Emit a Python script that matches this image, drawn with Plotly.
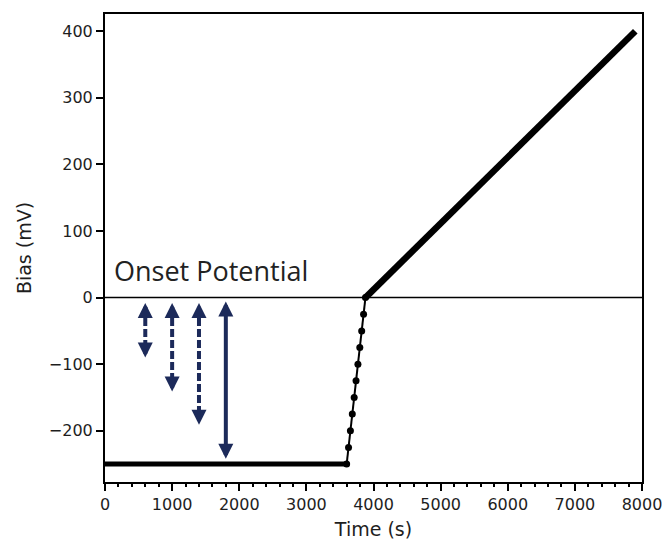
import plotly.graph_objects as go

# ---- data ----
hold_time = [0, 3600]
hold_bias = [-250, -250]

step_time = [3600, 3628, 3656, 3684, 3712, 3740, 3768, 3796, 3824, 3852, 3880]
step_bias = [-250, -225, -200, -175, -150, -125, -100, -75, -50, -25, 0]

ramp_time = [3880, 7900]
ramp_bias = [0, 400]

arrow_x = [600, 1000, 1400, 1800]
arrow_top = [-8, -8, -8, -6]
arrow_bottom = [-90, -141, -191, -242]
arrow_dashed = [True, True, True, False]

x_ticks = [0, 1000, 2000, 3000, 4000, 5000, 6000, 7000, 8000]
y_ticks = [-200, -100, 0, 100, 200, 300, 400]

navy = "#1c2a5a"
text_col = "#1e1e1e"

fig = go.Figure()

fig.add_trace(go.Scatter(x=hold_time, y=hold_bias, mode="lines",
                         line=dict(color="black", width=5), showlegend=False))
fig.add_trace(go.Scatter(x=step_time, y=step_bias, mode="lines+markers",
                         line=dict(color="black", width=2),
                         marker=dict(color="black", size=7), showlegend=False))
fig.add_trace(go.Scatter(x=ramp_time, y=ramp_bias, mode="lines",
                         line=dict(color="black", width=6.5), showlegend=False))

# horizontal zero line
fig.add_shape(type="line", xref="paper", yref="y", x0=0, x1=1, y0=0, y1=0,
              line=dict(color="black", width=1.5), layer="below")

# double-headed arrows
for xv, yt, yb, dashed in zip(arrow_x, arrow_top, arrow_bottom, arrow_dashed):
    fig.add_trace(go.Scatter(x=[xv, xv], y=[yt - 6, yb + 6], mode="lines",
                             line=dict(color=navy, width=4,
                                       dash="8px,3px" if dashed else "solid"),
                             showlegend=False, hoverinfo="skip"))
    fig.add_annotation(x=xv, y=yt, ax=0, ay=11, xref="x", yref="y",
                       showarrow=True, arrowhead=2, arrowsize=0.75, arrowwidth=4,
                       arrowcolor=navy, text="", standoff=0)
    fig.add_annotation(x=xv, y=yb, ax=0, ay=-11, xref="x", yref="y",
                       showarrow=True, arrowhead=2, arrowsize=0.75, arrowwidth=4,
                       arrowcolor=navy, text="", standoff=0)

fig.add_annotation(x=100, y=0, xref="x", yref="y", text="Onset Potential",
                   showarrow=False, xanchor="left", yanchor="middle", yshift=27,
                   font=dict(family="Open Sans", size=27, color="#222222"))

axis_common = dict(showline=True, linecolor="black", linewidth=2, mirror=True,
                   ticks="outside", ticklen=7, tickwidth=1.5, tickcolor="black",
                   showgrid=False, zeroline=False, automargin=False,
                   tickfont=dict(family="DejaVu Sans", size=16, color=text_col))

fig.update_xaxes(range=[0, 8000], tickvals=x_ticks,
                 minor=dict(dtick=200, ticks="outside", ticklen=3, tickcolor="black"),
                 title=dict(text="Time (s)", standoff=9,
                            font=dict(family="DejaVu Sans", size=19, color=text_col)),
                 **axis_common)
fig.update_yaxes(range=[-277, 426], tickvals=y_ticks,
                 title=dict(text="Bias (mV)", standoff=12,
                            font=dict(family="DejaVu Sans", size=19, color=text_col)),
                 **axis_common)

fig.update_layout(width=665, height=540, plot_bgcolor="white", paper_bgcolor="white",
                  margin=dict(l=105, r=23, t=14, b=58), showlegend=False)

fig.write_html("out.html", config={"displayModeBar": False},
               post_script="document.body.style.margin='0';"
                           "document.body.style.overflow='hidden';")
